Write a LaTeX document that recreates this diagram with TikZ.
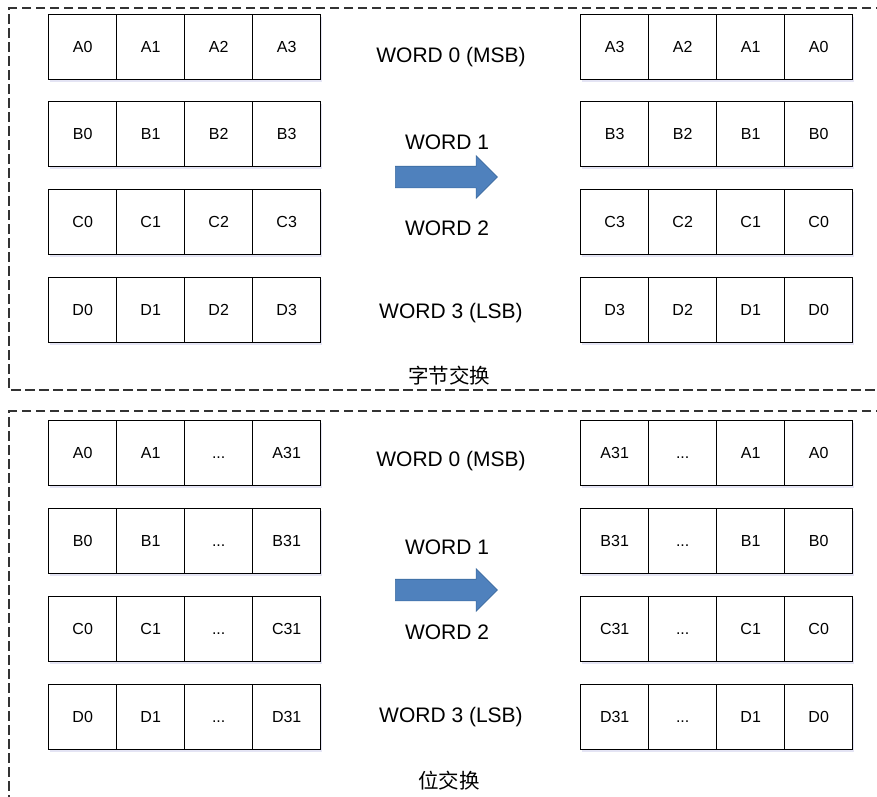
\documentclass[tikz,border=0pt]{standalone}
\usepackage{fontspec}
\setmainfont{Liberation Sans}
\newfontfamily\cjk{Noto Sans CJK SC}
\usetikzlibrary{shapes.arrows,shadows}
\definecolor{arrowfill}{HTML}{4F81BD}
\definecolor{arrowdraw}{HTML}{3B6A9E}
\tikzset{
  cell/.style={draw=black, fill=white, line width=1.4pt, minimum width=68pt, minimum height=65pt,
    inner sep=0pt, anchor=north west, font=\fontsize{16}{19}\selectfont,
    text height=11.5pt, text depth=0pt,
    drop shadow={shadow xshift=1.2pt, shadow yshift=-1.8pt, opacity=0.15, fill=blue!40!gray}},
  wordlbl/.style={font=\fontsize{21}{25}\selectfont, inner sep=0pt},
  caption/.style={font=\cjk\fontsize{20.5}{24}\selectfont, inner sep=0pt},
  frame/.style={draw=black!80, line width=1.15pt, dash pattern=on 9.5pt off 4.5pt},
  bigarrow/.style={single arrow, draw=arrowdraw, fill=arrowfill, line width=0.6pt,
    inner sep=10.5pt, single arrow head extend=10.5pt, minimum height=102pt}
}
\begin{document}
\begin{tikzpicture}[x=1pt,y=-1pt]
\useasboundingbox (0,0) rectangle (877,796);
% frames
\coordinate (f1a) at (885,8);
\coordinate (f1b) at (9,8);
\coordinate (f1c) at (9,390);
\coordinate (f1d) at (885,390);
\draw[frame] (f1a) -- (f1b) -- (f1c) -- (f1d);
\coordinate (f2a) at (885,411);
\coordinate (f2b) at (9,411);
\coordinate (f2c) at (9,805);
\draw[frame] (f2a) -- (f2b) -- (f2c);

% top section
\foreach \r/\y/\L in {A/14/A,B/101/B,C/189/C,D/277/D}{
  \foreach \i in {0,1,2,3}{
    \node[cell] (tl\r\i) at ({48+68*\i},\y) {\L\i};
    \pgfmathtruncatemacro{\j}{3-\i}
    \node[cell] (tr\r\i) at ({580+68*\i},\y) {\L\j};
  }
}
% bottom section
\foreach \r/\y in {A/420,B/508,C/596,D/684}{
  \node[cell] (bl\r0) at (48,\y) {\r0};
  \node[cell] (bl\r1) at (116,\y) {\r1};
  \node[cell] (bl\r2) at (184,\y) {...};
  \node[cell] (bl\r3) at (252,\y) {\r31};
  \node[cell] (br\r0) at (580,\y) {\r31};
  \node[cell] (br\r1) at (648,\y) {...};
  \node[cell] (br\r2) at (716,\y) {\r1};
  \node[cell] (br\r3) at (784,\y) {\r0};
}

% labels top
\node[wordlbl] (tw0) at (451,57) {WORD 0 (MSB)};
\node[wordlbl] (tw1) at (447,142) {WORD 1};
\node[wordlbl] (tw2) at (447,228) {WORD 2};
\node[wordlbl] (tw3) at (451,313) {WORD 3 (LSB)};
\node[bigarrow] (ta) at (441,177) {};
\node[caption] (tc) at (449,376) {字节交换};

% labels bottom
\node[wordlbl] (bw0) at (451,461) {WORD 0 (MSB)};
\node[wordlbl] (bw1) at (447,547) {WORD 1};
\node[wordlbl] (bw2) at (447,632) {WORD 2};
\node[wordlbl] (bw3) at (451,717) {WORD 3 (LSB)};
\node[bigarrow] (ba) at (441,590) {};
\node[caption] (bc) at (449,781) {位交换};
\end{tikzpicture}
\end{document}
